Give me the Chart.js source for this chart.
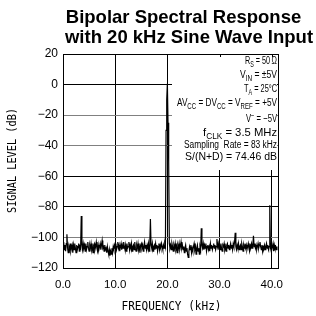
<!DOCTYPE html>
<html>
<head>
<meta charset="utf-8">
<script src="https://cdn.jsdelivr.net/npm/chart.js@4"></script>
<style>
  html, body { margin: 0; padding: 0; background: #fff; }
  canvas { display: block; }
</style>
</head>
<body>
<canvas id="spectrum" width="316" height="316"></canvas>
<script>
var titleLines = ['Bipolar Spectral Response', 'with 20 kHz Sine Wave Input'];
var xAxisTitle = 'FREQUENCY (kHz)';
var yAxisTitle = 'SIGNAL LEVEL (dB)';
var xTicks = [0, 10, 20, 30, 40];
var yTicks = [20, 0, -20, -40, -60, -80, -100, -120];
var greyGridDb = [-20, -40, -100];

// FFT bins, one every 0.125 kHz starting at 0 kHz (one row per kHz)
var binWidthKHz = 0.125;
var levelDb = [
  -106, -103, -108, -105, -109, -104, -98, -107,
  -110, -106, -108, -104, -109, -107, -105, -110,
  -105, -108, -104, -107, -110, -105, -108, -106,
  -104, -109, -106, -107, -86, -105, -108, -104,
  -107, -105, -109, -104, -108, -106, -103, -107,
  -109, -105, -107, -104, -108, -106, -110, -105,
  -104, -108, -106, -103, -107, -109, -105, -108,
  -106, -104, -108, -105, -102, -107, -106, -109,
  -105, -108, -107, -110, -106, -109, -111, -108,
  -112, -109, -111, -107, -110, -106, -108, -105,
  -107, -104, -108, -106, -103, -107, -105, -109,
  -106, -104, -108, -105, -107, -103, -106, -108,
  -105, -109, -104, -107, -106, -103, -108, -105,
  -107, -104, -109, -106, -105, -108, -103, -107,
  -109, -105, -107, -104, -108, -106, -110, -105,
  -104, -107, -105, -109, -106, -103, -107, -105,
  -108, -105, -107, -104, -109, -106, -88, -105,
  -107, -104, -109, -106, -105, -108, -104, -107,
  -105, -109, -106, -104, -108, -105, -107, -104,
  -106, -108, -105, -107, -104, -106, -30, -10,
  0.5, -25, -50, -104, -107, -105, -108, -104,
  -106, -109, -105, -107, -104, -108, -106, -110,
  -105, -107, -104, -108, -106, -103, -107, -105,
  -108, -106, -110, -107, -105, -109, -107, -111,
  -113, -109, -106, -108, -105, -110, -107, -109,
  -106, -104, -108, -106, -111, -107, -105, -109,
  -107, -111, -106, -108, -94, -105, -107, -104,
  -108, -105, -107, -104, -109, -106, -105, -108,
  -106, -109, -104, -107, -105, -108, -106, -104,
  -107, -105, -108, -106, -101, -106, -104, -108,
  -105, -108, -104, -107, -109, -105, -106, -104,
  -108, -106, -109, -105, -104, -107, -105, -108,
  -106, -104, -107, -105, -108, -104, -106, -103,
  -97, -106, -108, -105, -107, -104, -108, -106,
  -105, -108, -104, -106, -109, -105, -107, -104,
  -107, -105, -108, -106, -104, -107, -109, -105,
  -106, -104, -107, -105, -99, -106, -104, -107,
  -105, -108, -106, -104, -107, -105, -103, -106,
  -108, -105, -109, -106, -107, -105, -108, -106,
  -104, -107, -105, -108, -106, -79, -107, -105,
  -108, -106, -104, -109, -105, -107, -106, -108,
  -106
];

// test conditions, as runs of [text, 'n' | 'small' | 'sub' | 'sup']
var conditions = [
  [['R', 'n'], ['S', 'sub'], [' = 50\u2009\u03a9', 'n']],
  [['V', 'n'], ['IN', 'sub'], [' = \u00b15V', 'n']],
  [['T', 'n'], ['A', 'sub'], [' = 25\u00b0C', 'n']],
  [['AV', 'n'], ['CC', 'sub'], [' = DV', 'n'], ['CC', 'sub'], [' = V', 'n'], ['REF', 'sub'], [' = +5V', 'n']],
  [['V', 'n'], ['\u2212', 'sup'], [' = \u22125V', 'n']],
  [['f', 'n'], ['CLK', 'sub'], [' = 3.5 MHz', 'n']],
  [['Sampling  Rate = 83 kHz', 'small']],
  [['S/(N+D) = 74.46 dB', 'n']]
];
var condBaseline = [64, 78, 92, 106, 122, 136, 148, 160];
var condWidth = [32, 37, 33, 100, 31, 74, 93, 92];

var points = levelDb.map(function (db, i) {
  return { x: i * binWidthKHz, y: db };
});

var minus = function (v) {
  return v < 0 ? '\u2212' + (-v) : String(v);
};

var drawRich = function (ctx, runs, right, baseline, width) {
  var fonts = {
    n: ['11.5px "Liberation Sans"', 0],
    small: ['10px "Liberation Sans"', 0],
    sub: ['8.5px "Liberation Sans"', 2.5],
    sup: ['8.5px "Liberation Sans"', -4]
  };
  var natural = 0;
  runs.forEach(function (r) {
    ctx.font = fonts[r[1]][0];
    natural += ctx.measureText(r[0]).width;
  });
  ctx.save();
  ctx.translate(right - width, baseline);
  ctx.scale(width / natural, 1);
  var x = 0;
  runs.forEach(function (r) {
    ctx.font = fonts[r[1]][0];
    ctx.fillText(r[0], x, fonts[r[1]][1]);
    x += ctx.measureText(r[0]).width;
  });
  ctx.restore();
};

var decor = {
  id: 'decor',
  beforeDatasetsDraw: function (chart) {
    var ctx = chart.ctx,
        a = chart.chartArea,
        xs = chart.scales.x;
    ctx.save();
    // white panel behind the test conditions
    ctx.fillStyle = '#fff';
    ctx.fillRect(a.left + 109, a.top + 1, a.right - a.left - 110, 115);
    ctx.strokeStyle = '#000';
    ctx.lineWidth = 1;
    ctx.beginPath();
    ctx.moveTo(Math.round(a.right) + 0.5, a.top);
    ctx.lineTo(Math.round(a.right) + 0.5, a.bottom);
    [30, 40].forEach(function (v) {
      var px = Math.round(xs.getPixelForValue(v)) + 0.5;
      ctx.moveTo(px, a.top);
      ctx.lineTo(px, a.top + 3);
    });
    ctx.stroke();
    ctx.restore();
  },
  afterDraw: function (chart) {
    var ctx = chart.ctx;
    ctx.save();
    ctx.fillStyle = '#000';
    ctx.textBaseline = 'alphabetic';
    ctx.textAlign = 'center';
    ctx.font = 'bold 18.5px "Liberation Sans"';
    ctx.fillText(titleLines[0], 183.5, 22.5);
    ctx.fillText(titleLines[1], 189, 43);

    ctx.font = '13px "DejaVu Sans Mono"';
    ctx.fillText(xAxisTitle, 171.5, 310, 100);
    ctx.save();
    ctx.translate(16, 160.5);
    ctx.rotate(-Math.PI / 2);
    ctx.fillText(yAxisTitle, 0, 0, 105);
    ctx.restore();

    ctx.textAlign = 'left';
    conditions.forEach(function (runs, i) {
      drawRich(ctx, runs, 277, condBaseline[i], condWidth[i]);
    });
    ctx.restore();
  }
};

new Chart(document.getElementById('spectrum').getContext('2d'), {
  type: 'line',
  data: {
    datasets: [{
      data: points,
      borderColor: '#000',
      borderWidth: 1.2,
      pointRadius: 0,
      tension: 0,
      fill: false
    }]
  },
  options: {
    responsive: false,
    animation: false,
    devicePixelRatio: 1,
    layout: { padding: { top: 54, right: 38, left: 0, bottom: 0 } },
    plugins: {
      legend: { display: false },
      tooltip: { enabled: false },
      title: { display: false }
    },
    scales: {
      x: {
        type: 'linear',
        min: 0,
        max: 41.2,
        afterBuildTicks: function (s) {
          s.ticks = xTicks.map(function (v) { return { value: v }; });
        },
        afterFit: function (s) { s.height = 48; },
        ticks: {
          callback: function (v) { return v.toFixed(1); },
          font: { family: 'Liberation Sans', size: 11.5 },
          color: '#000',
          padding: 10,
          maxRotation: 0
        },
        grid: { color: '#000', lineWidth: 1, drawTicks: false },
        border: { color: '#000', width: 1 }
      },
      y: {
        min: -120,
        max: 20,
        afterBuildTicks: function (s) {
          s.ticks = yTicks.map(function (v) { return { value: v }; });
        },
        afterFit: function (s) { s.width = 63; },
        ticks: {
          callback: minus,
          font: { family: 'Liberation Sans', size: 12 },
          color: '#000',
          padding: 5
        },
        grid: {
          color: function (c) {
            return greyGridDb.indexOf(c.tick && c.tick.value) !== -1 ? '#808080' : '#000';
          },
          lineWidth: 1,
          drawTicks: false
        },
        border: { color: '#000', width: 1 }
      }
    }
  },
  plugins: [decor]
});
</script>
</body>
</html>
